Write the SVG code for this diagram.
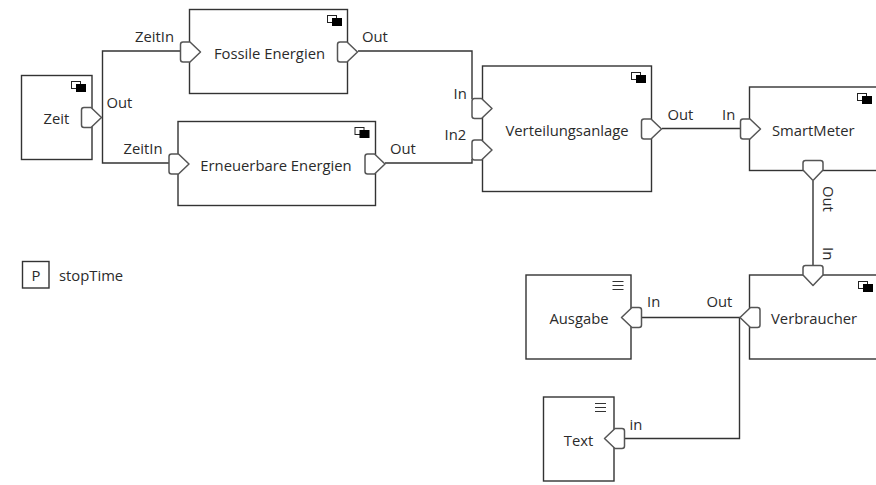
<svg xmlns="http://www.w3.org/2000/svg" width="876" height="485" viewBox="0 0 876 485">
<style>
text{font-family:"Open Sans","Noto Sans","Liberation Sans",sans-serif;font-size:14.8px;fill:#2b2b2b}
.m{text-anchor:middle}
.b{fill:#fff;stroke:#333;stroke-width:1.4}
.c{fill:none;stroke:#333;stroke-width:1.4}
.p{fill:#fff;stroke:#555;stroke-width:1.5;stroke-linejoin:round}
.k{fill:#000}
.w{fill:#fff;stroke:#222;stroke-width:1}
.l{stroke:#333;stroke-width:1;fill:none}
</style>
<defs>
<path id="pr" class="p" d="M-8-10H-1L9.500 0L-1 10H-8Q-10.500 10-10.500 7.500V-7.500Q-10.500-10-8-10Z"/>
<g id="mi"><rect class="w" x="0.500" y="0.500" width="9" height="7"/><rect class="k" x="5" y="3" width="10" height="8"/></g>
<path id="li" class="l" d="M0 .5H11M0 4.500H11M0 8.500H11"/>
</defs>
<g id="connectors">
<path class="c" d="M181 51H102.500V163H170"/>
<path class="c" d="M358 51H472V99"/>
<path class="c" d="M385 163H472V159"/>
<path class="c" d="M662 128.500H741"/>
<path class="c" d="M813 181V266"/>
<path class="c" d="M641 317.500H739.500V438.500H624"/>
</g>
<g id="zeit"><rect class="b" x="21.500" y="75.500" width="70.500" height="84"/><use href="#mi" x="71" y="81"/><text class="m" x="56.500" y="124">Zeit</text><use href="#pr" x="92" y="117.500"/><text x="106.500" y="108">Out</text></g>
<g id="fossil"><rect class="b" x="189.500" y="9.500" width="158" height="84"/><use href="#mi" x="327" y="15"/><text class="m" x="269.500" y="59">Fossile Energien</text><use href="#pr" x="191" y="52"/><use href="#pr" x="348" y="52"/><text x="135" y="42">ZeitIn</text><text x="362" y="42">Out</text></g>
<g id="erneuerbar"><rect class="b" x="178" y="121.500" width="197.500" height="84"/><use href="#mi" x="354.500" y="127"/><text class="m" x="276" y="171">Erneuerbare Energien</text><use href="#pr" x="179.500" y="164"/><use href="#pr" x="375.500" y="164"/><text x="123.500" y="154">ZeitIn</text><text x="390" y="154">Out</text></g>
<g id="verteilung"><rect class="b" x="482.500" y="66" width="169" height="125.500"/><use href="#mi" x="631" y="72"/><text class="m" x="567" y="136">Verteilungsanlage</text><use href="#pr" x="482.500" y="108.500"/><use href="#pr" x="482.500" y="150"/><use href="#pr" x="652" y="129"/><text x="453.500" y="99">In</text><text x="444.500" y="140">In2</text><text x="667.500" y="120">Out</text></g>
<g id="smartmeter"><rect class="b" x="749.500" y="87" width="140" height="83.500"/><use href="#mi" x="857" y="93"/><text x="772" y="136">SmartMeter</text><use href="#pr" x="751" y="129"/><use href="#pr" transform="translate(813 171) rotate(90)"/><text x="722" y="120">In</text><text transform="translate(823 186) rotate(90)">Out</text><text transform="translate(823 247) rotate(90)">In</text></g>
<g id="verbraucher"><rect class="b" x="749.500" y="275" width="140" height="84"/><use href="#mi" x="858" y="281"/><text x="771" y="324">Verbraucher</text><use href="#pr" transform="translate(813 276) rotate(90)"/><use href="#pr" transform="translate(749.500 317.500) rotate(180)"/><text x="706.500" y="307">Out</text></g>
<g id="ausgabe"><rect class="b" x="526" y="275" width="105" height="84"/><use href="#li" x="612.500" y="281"/><text class="m" x="579" y="324">Ausgabe</text><use href="#pr" transform="translate(631 317.500) rotate(180)"/><text x="647" y="307">In</text></g>
<g id="text"><rect class="b" x="543.500" y="397" width="70.500" height="84"/><use href="#li" x="595" y="403"/><text class="m" x="578.500" y="446">Text</text><use href="#pr" transform="translate(614 438.500) rotate(180)"/><text x="629.500" y="430">in</text></g>
<g id="stoptime"><rect class="b" x="22.500" y="261.500" width="26.500" height="26.500"/><text class="m" x="36" y="281">P</text><text x="59" y="281">stopTime</text></g>
</svg>
